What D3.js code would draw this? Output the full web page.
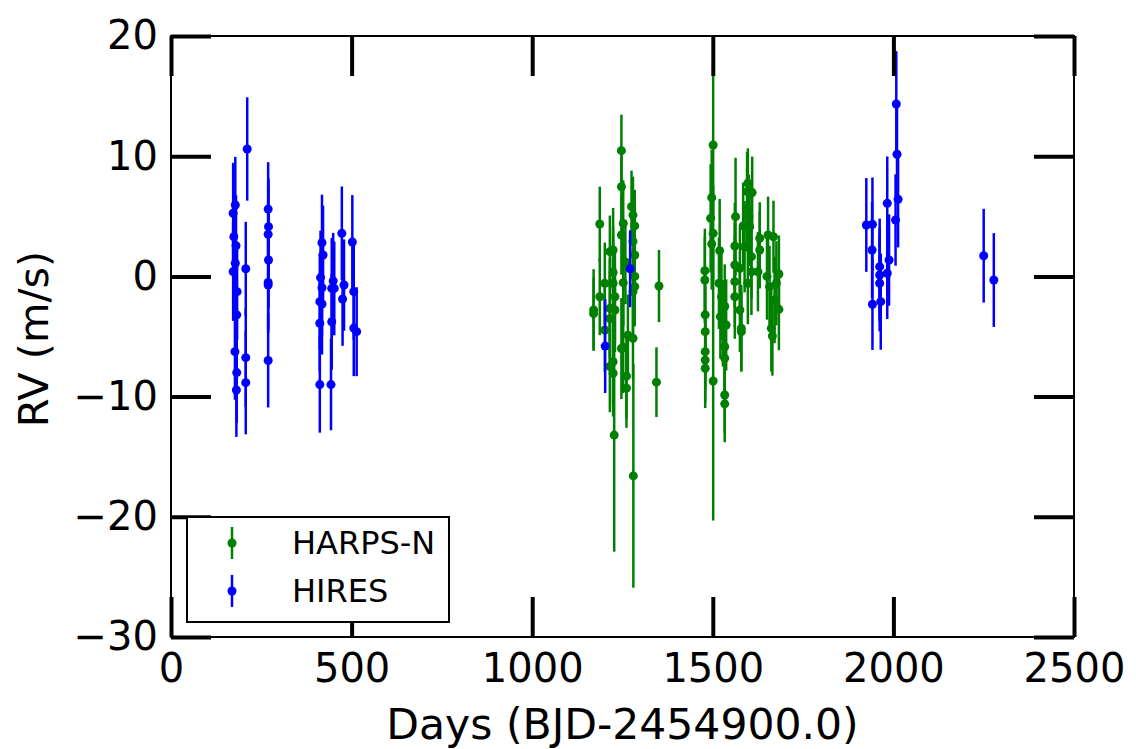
<!DOCTYPE html>
<html>
<head>
<meta charset="utf-8">
<script src="https://cdn.jsdelivr.net/npm/d3@7"></script>
<style>
  html, body { margin: 0; padding: 0; background: #fff; }
  svg { display: block; font-family: "DejaVu Sans", sans-serif; }
</style>
</head>
<body>
<svg id="chart" width="1136" height="749"></svg>
<script>
// HARPS-N radial velocities: day, RV (m/s), 1-sigma error
const harpsDays = [1247,1247,1187,1275,1279,1284,1252,1247,1279,1224,1215,1284,1224,1284,1201,1224,1252,1284,1279,1187,1229,1170,1170,1215,1229,1215,1201,1279,1252,1224,1215,1224,1261,1261,1227,1280,1351,1344,1258,1265,1247,
  1501,1501,1497,1494,1501,1497,1519,1478,1478,1479,1479,1479,1479,1479,1533,1533,1517,1524,1533,1537,1528,1533,1533,1521,1563,1561,1561,1561,1561,1575,1584,1575,1579,1579,1597,1595,1609,1595,1600,1602,1588,1607,1607,1597,1630,1630,1625,1653,1668,1650,1657,1683,1683,1662,1665,1676,1671];
const harpsRV = [10.46,7.46,4.36,5.8,5.1,4.2,4.4,3.44,2.9,2.2,2.06,1.78,0.34,0.0,-0.58,-0.58,-0.52,-0.85,-1.27,-1.69,-1.69,-2.8,-3.1,-2.66,-2.8,-3.5,-4.46,-5.15,-5.9,-7.1,-7.5,-8.06,-8.3,-9.3,-13.2,-16.6,-0.8,-8.8,1.2,-4.9,-6.0,
  10.93,-8.7,6.55,4.83,3.58,2.7,2.14,0.47,-0.3,-3.2,-4.6,-6.26,-6.96,-7.65,-9.87,-10.6,-0.57,-1.69,-2.5,-4.04,-3.9,-5.85,-6.8,-3.35,4.97,2.53,0.95,-0.44,-1.69,0.67,4.2,-2.8,-4.32,-4.6,7.75,7.05,6.97,5.58,4.97,4.14,2.47,1.64,0.39,-0.57,3.17,2.2,0.39,3.44,3.3,0.0,-0.85,0.2,-2.74,-4.32,-4.96,-0.57,-1.96];
const harpsErr = [3.0,3.2,3.1,3.0,3.2,3.0,3.6,3.3,3.4,3.5,3.0,3.2,3.8,3.5,3.4,4.0,3.6,3.3,3.6,3.2,3.8,3.4,3.0,4.1,3.5,3.6,3.5,3.4,3.8,3.5,3.8,3.6,3.5,3.3,9.7,9.3,3.0,2.9,3.5,3.4,4.2,
  6.2,11.6,4.0,4.5,4.0,3.8,4.3,3.5,3.6,3.5,3.8,3.2,3.5,3.3,3.2,3.2,3.8,3.6,3.5,3.8,3.6,3.4,3.3,3.5,4.9,3.6,3.5,3.8,3.5,3.4,3.6,3.5,3.6,3.3,2.9,3.3,3.0,3.5,3.5,3.3,3.8,3.5,3.6,3.4,3.0,3.2,3.3,3.2,3.0,3.6,3.4,3.2,3.4,3.6,3.3,3.5,3.6];

// HIRES radial velocities: day, RV (m/s), 1-sigma error
const hiresDays = [211,178,172,174,180,178,172,207,183,182,177,182,181,207,207,269,270,269,270,269,269,269,
  418,421,414,418,412,418,412,412,443,449,445,452,445,473,479,475,502,506,506,514,
  1271,1202,
  2008,2010,2013,2006,1983,1925,1942,1941,1988,1962,1962,1983,1962,1942,1965,2250,2278];
const hiresRV = [10.6,5.94,5.25,3.3,2.55,1.09,0.4,0.64,-1.27,-3.2,-6.26,-8.0,-9.45,-6.76,-8.84,5.6,4.14,3.5,1.36,-0.5,-0.72,-7.0,
  2.8,1.78,-0.1,-0.94,-2.1,-2.3,-3.9,-9.0,-9.0,-0.38,-1.0,-1.0,-3.77,3.58,-0.72,-1.88,2.86,-1.27,-4.3,-4.6,
  0.64,-5.8,
  14.34,10.16,6.41,4.69,6.08,4.28,4.33,2.2,1.36,0.81,0.12,0.26,-0.57,-2.32,-2.1,1.72,-0.3];
const hiresErr = [4.3,4.0,4.2,4.0,4.2,4.0,4.1,3.9,4.0,4.1,4.0,4.2,3.9,4.1,4.3,3.9,4.0,4.1,4.0,3.9,4.0,3.9,
  4.0,4.1,3.9,4.0,4.0,4.2,4.0,4.0,3.8,4.0,4.2,3.9,4.0,3.9,3.8,3.9,3.9,4.0,4.0,3.7,
  3.2,3.9,
  4.4,4.0,4.0,3.8,3.9,3.9,3.9,4.0,3.8,4.0,3.9,3.8,4.0,3.8,4.0,3.9,3.9];

const xTicks = [0, 500, 1000, 1500, 2000, 2500];
const xTickLabels = ["0", "500", "1000", "1500", "2000", "2500"];
const yTicks = [-30, -20, -10, 0, 10, 20];
const yTickLabels = ["\u221230", "\u221220", "\u221210", "0", "10", "20"];

const seriesNames = ["HARPS-N", "HIRES"];
const seriesColors = ["#008000", "#0000ff"];

const svg = d3.select("#chart");
const plotLeft = 171, plotRight = 1074, plotTop = 36, plotBottom = 637;

const x = d3.scaleLinear().domain([0, 2500]).range([plotLeft, plotRight]);
const y = d3.scaleLinear().domain([-30, 20]).range([plotBottom, plotTop]);

const toRows = (days, rv, err) => days.map((d, i) => ({ d, v: rv[i], e: err[i] }));
const series = [
  { name: seriesNames[0], color: seriesColors[0], rows: toRows(harpsDays, harpsRV, harpsErr) },
  { name: seriesNames[1], color: seriesColors[1], rows: toRows(hiresDays, hiresRV, hiresErr) }
];

// data: error bars then markers, one series after the other
const plot = svg.append("g");
series.forEach(s => {
  const g = plot.append("g");
  g.selectAll("line").data(s.rows).join("line")
    .attr("x1", r => x(r.d)).attr("x2", r => x(r.d))
    .attr("y1", r => y(r.v - r.e)).attr("y2", r => y(r.v + r.e))
    .attr("stroke", s.color).attr("stroke-width", 2.5);
  g.selectAll("circle").data(s.rows).join("circle")
    .attr("cx", r => x(r.d)).attr("cy", r => y(r.v)).attr("r", 4.5)
    .attr("fill", s.color);
});

// axes with inward ticks on all four sides
function styleAxis(g) {
  g.select(".domain").remove();
  g.selectAll(".tick line").attr("stroke", "#000").attr("stroke-width", 4);
  g.selectAll(".tick text").attr("fill", "#000").style("font-size", "40px")
    .style("font-family", "'DejaVu Sans', sans-serif");
}
svg.append("g").attr("transform", `translate(0,${plotBottom})`)
  .call(d3.axisBottom(x).tickValues(xTicks).tickSize(-40).tickPadding(17)
    .tickFormat((d, i) => xTickLabels[i]))
  .call(styleAxis);
svg.append("g").attr("transform", `translate(0,${plotTop})`)
  .call(d3.axisTop(x).tickValues(xTicks).tickSize(-40).tickFormat(""))
  .call(styleAxis);
svg.append("g").attr("transform", `translate(${plotLeft},0)`)
  .call(d3.axisLeft(y).tickValues(yTicks).tickSize(-40).tickPadding(13)
    .tickFormat((d, i) => yTickLabels[i]))
  .call(styleAxis);
svg.append("g").attr("transform", `translate(${plotRight},0)`)
  .call(d3.axisRight(y).tickValues(yTicks).tickSize(-40).tickFormat(""))
  .call(styleAxis);

// frame
svg.append("rect")
  .attr("x", plotLeft).attr("y", plotTop)
  .attr("width", plotRight - plotLeft).attr("height", plotBottom - plotTop)
  .attr("fill", "none").attr("stroke", "#000").attr("stroke-width", 2);

// axis titles
svg.append("text").attr("x", (plotLeft + plotRight) / 2).attr("y", 739)
  .attr("text-anchor", "middle").style("font-size", "42.5px")
  .text("Days (BJD-2454900.0)");
svg.append("text").attr("transform", `translate(48,339) rotate(-90)`)
  .attr("text-anchor", "middle").style("font-size", "41.5px")
  .text("RV (m/s)");

// legend
const lg = svg.append("g");
lg.append("rect").attr("x", 187).attr("y", 517).attr("width", 262).attr("height", 105)
  .attr("fill", "#fff").attr("stroke", "#000").attr("stroke-width", 2);
series.forEach((s, i) => {
  const cy = 543 + i * 48;
  lg.append("line").attr("x1", 232).attr("x2", 232).attr("y1", cy - 16).attr("y2", cy + 16)
    .attr("stroke", s.color).attr("stroke-width", 2.5);
  lg.append("circle").attr("cx", 232).attr("cy", cy).attr("r", 4.5).attr("fill", s.color);
  lg.append("text").attr("x", 292).attr("y", cy + 11).style("font-size", "32px")
    .text(s.name);
});
</script>
</body>
</html>
